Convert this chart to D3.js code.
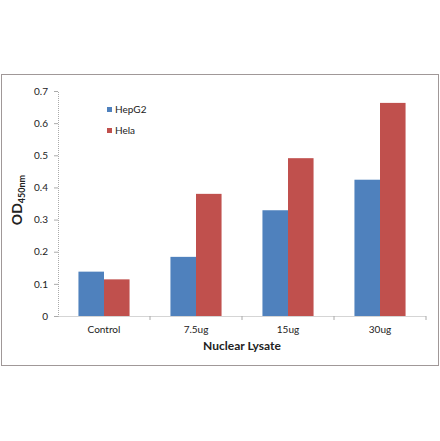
<!DOCTYPE html>
<html lang="en">
<head>
    <meta charset="UTF-8">
    <title>OD450 by Nuclear Lysate</title>
    <script src="https://d3js.org/d3.v7.min.js"></script>
    <style>
        body { margin: 0; background: #fff; }
        text { font-family: Lato, "Open Sans", sans-serif; fill: #222; }
    </style>
</head>
<body>
<div id="chart"></div>
<script>
    // chart data
    const categories = ["Control", "7.5ug", "15ug", "30ug"];
    const seriesNames = ["HepG2", "Hela"];
    const hepg2Values = [0.138, 0.184, 0.329, 0.424];
    const helaValues = [0.114, 0.380, 0.491, 0.663];
    const yTicks = [0, 0.1, 0.2, 0.3, 0.4, 0.5, 0.6, 0.7];

    const colors = ["#4F81BD", "#C0504D"];
    const width = 440, height = 441;
    const margin = { top: 91, left: 58, right: 14, bottom: 125 };

    const svg = d3.select("#chart").append("svg")
        .attr("width", width)
        .attr("height", height);

    // outer chart frame
    svg.append("rect")
        .attr("x", 1.5).attr("y", 74.5)
        .attr("width", 437).attr("height", 291)
        .attr("fill", "none")
        .attr("stroke", "#a09898")
        .attr("stroke-width", 1);

    const x = d3.scaleBand()
        .domain(categories)
        .range([margin.left, width - margin.right]);

    const xInner = d3.scaleBand()
        .domain(seriesNames)
        .range([0, x.bandwidth()])
        .paddingOuter(0.8);

    const y = d3.scaleLinear()
        .domain([0, 0.7])
        .range([height - margin.bottom, margin.top]);

    const rows = categories.map((c, i) => ({ cat: c, vals: [hepg2Values[i], helaValues[i]] }));

    // bars
    const groups = svg.append("g").selectAll("g")
        .data(rows).enter().append("g")
        .attr("transform", d => `translate(${x(d.cat)},0)`);

    groups.selectAll("rect")
        .data(d => d.vals.map((v, i) => ({ name: seriesNames[i], v: v, i: i })))
        .enter().append("rect")
        .attr("x", d => xInner(d.name))
        .attr("y", d => y(d.v))
        .attr("width", xInner.bandwidth())
        .attr("height", d => y(0) - y(d.v))
        .attr("fill", d => colors[d.i]);

    // y axis
    const yAxis = svg.append("g")
        .attr("transform", `translate(${margin.left},0)`)
        .call(d3.axisLeft(y).tickValues(yTicks).tickSize(4).tickPadding(6)
            .tickFormat(d => d === 0 ? "0" : d3.format(".1f")(d)));
    yAxis.select(".domain").attr("stroke", "#aaa").attr("stroke-dasharray", "1,1");
    yAxis.selectAll(".tick line").attr("stroke", "#aaa");
    yAxis.selectAll("text").style("font-size", "10px").attr("fill", "#222");

    // x axis
    const xAxis = svg.append("g")
        .attr("transform", `translate(0,${y(0)})`)
        .call(d3.axisBottom(x).tickSize(0).tickPadding(10));
    xAxis.select(".domain").attr("stroke", "#aaa").attr("stroke-dasharray", "1,1");
    xAxis.selectAll("text").style("font-size", "10px").attr("fill", "#222");
    xAxis.selectAll(".sep")
        .data(categories.slice(1).concat(["end"]))
        .enter().append("line")
        .attr("class", "sep")
        .attr("x1", (d, i) => i < categories.length - 1 ? x(d) : x.range()[1])
        .attr("x2", (d, i) => i < categories.length - 1 ? x(d) : x.range()[1])
        .attr("y1", 0).attr("y2", 4)
        .attr("stroke", "#aaa");

    // axis titles
    svg.append("text")
        .attr("x", (margin.left + width - margin.right) / 2)
        .attr("y", 350)
        .attr("text-anchor", "middle")
        .style("font-size", "12px")
        .style("font-weight", "bold")
        .text("Nuclear Lysate");

    const yTitle = svg.append("text")
        .attr("transform", "translate(22,200) rotate(-90)")
        .attr("text-anchor", "middle")
        .style("font-weight", "bold");
    yTitle.append("tspan").style("font-size", "14px").text("OD");
    yTitle.append("tspan").style("font-size", "9px").attr("dy", "3").text("450nm");

    // legend
    const legend = svg.append("g").selectAll("g")
        .data(seriesNames).enter().append("g")
        .attr("transform", (d, i) => `translate(107,${107 + i * 21})`);
    legend.append("rect")
        .attr("width", 5).attr("height", 5)
        .attr("fill", (d, i) => colors[i]);
    legend.append("text")
        .attr("x", 8).attr("y", 6)
        .style("font-size", "10px")
        .text(d => d);
</script>
</body>
</html>
